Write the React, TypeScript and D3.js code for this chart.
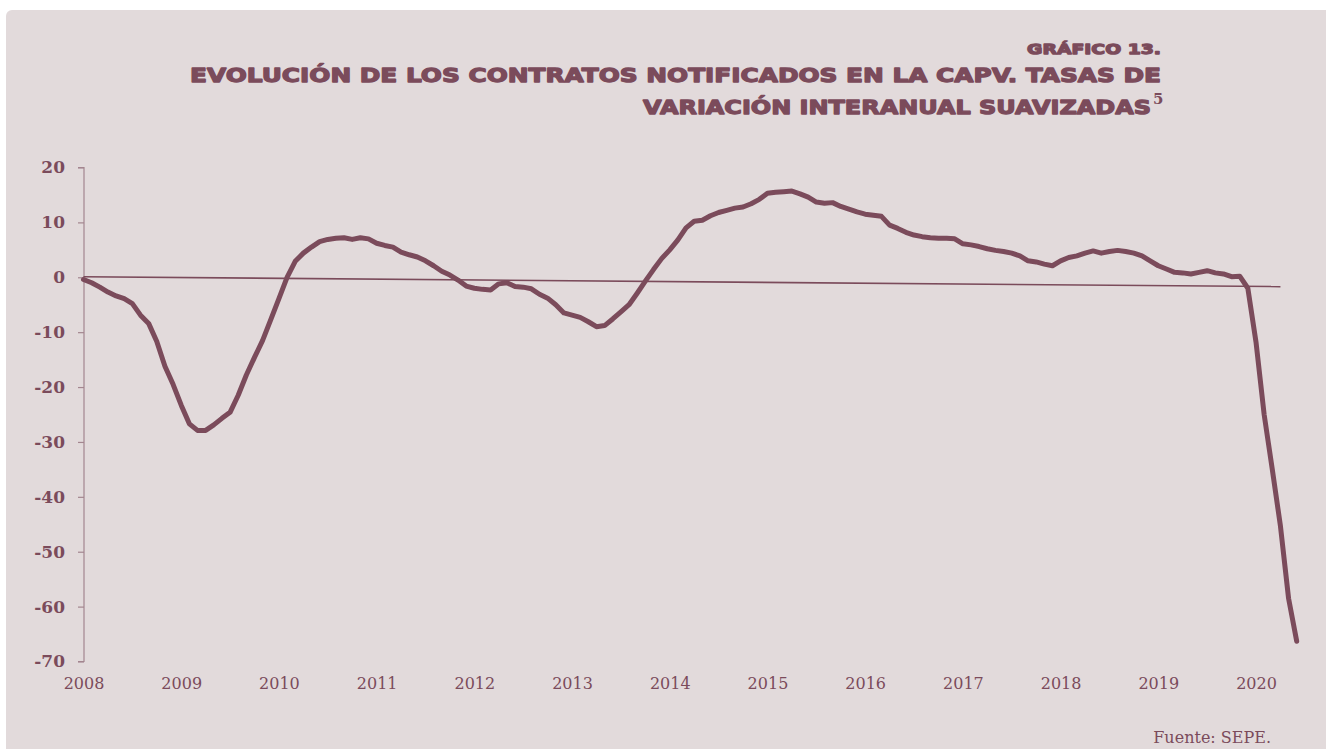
import React, { useEffect, useRef } from "react";
import * as d3 from "d3";

// tasas de variación interanual suavizadas, un valor por mes (ene..dic)
const v2008 = [-0.4, -1.0, -1.8, -2.7, -3.4, -3.9, -4.8, -6.9, -8.4, -11.7, -16.2, -19.5];
const v2009 = [-23.3, -26.7, -27.9, -27.9, -26.9, -25.7, -24.6, -21.5, -17.8, -14.6, -11.5, -7.7];
const v2010 = [-3.9, 0.0, 2.9, 4.4, 5.5, 6.5, 6.9, 7.1, 7.2, 6.9, 7.2, 7.0];
const v2011 = [6.2, 5.8, 5.5, 4.6, 4.1, 3.7, 3.0, 2.1, 1.1, 0.4, -0.5, -1.6];
const v2012 = [-2.0, -2.2, -2.3, -1.2, -1.0, -1.7, -1.8, -2.1, -3.1, -3.8, -5.0, -6.5];
const v2013 = [-6.9, -7.3, -8.1, -9.0, -8.8, -7.6, -6.3, -5.0, -2.9, -0.7, 1.4, 3.4];
const v2014 = [5.0, 6.8, 9.0, 10.2, 10.4, 11.2, 11.8, 12.2, 12.6, 12.8, 13.4, 14.2];
const v2015 = [15.3, 15.5, 15.6, 15.7, 15.2, 14.6, 13.7, 13.5, 13.6, 12.9, 12.4, 11.9];
const v2016 = [11.5, 11.3, 11.1, 9.5, 8.9, 8.2, 7.7, 7.4, 7.2, 7.1, 7.1, 7.0];
const v2017 = [6.1, 5.9, 5.6, 5.2, 4.9, 4.7, 4.4, 3.9, 3.0, 2.8, 2.4, 2.1];
const v2018 = [3.0, 3.6, 3.9, 4.4, 4.8, 4.4, 4.7, 4.9, 4.7, 4.4, 3.9, 3.0];
const v2019 = [2.1, 1.5, 0.9, 0.8, 0.6, 0.9, 1.2, 0.8, 0.6, 0.1, 0.2, -2.0];
const v2020 = [-11.8, -25.0, -35.0, -45.3, -58.5, -66.3];

const yearlyValues = [v2008, v2009, v2010, v2011, v2012, v2013, v2014, v2015, v2016, v2017, v2018, v2019, v2020];
const yearLabels = [2008, 2009, 2010, 2011, 2012, 2013, 2014, 2015, 2016, 2017, 2018, 2019, 2020];
const yTicks = [20, 10, 0, -10, -20, -30, -40, -50, -60, -70];

// línea de tendencia (inicio, fin)
const trendTimes = [2008, 2020.25];
const trendValues = [0.1, -1.7];

const titleLines = [
  "GRÁFICO 13.",
  "EVOLUCIÓN DE LOS CONTRATOS NOTIFICADOS EN LA CAPV. TASAS DE",
  "VARIACIÓN INTERANUAL SUAVIZADAS",
];

const MAIN = "#7b4b5b";
const AXIS = "#a3868f";
const PANEL = "#e2dadb";
const SERIF = "'DejaVu Serif', serif";
const DISPLAY = "'DejaVu Sans', sans-serif";

const W = 1326;
const H = 749;

export default function App() {
  const yAxisRef = useRef<SVGGElement>(null);
  const xAxisRef = useRef<SVGGElement>(null);

  const x = d3.scaleLinear().domain([2008, 2020]).range([83.5, 1256]);
  const y = d3.scaleLinear().domain([-70, 20]).range([661.5, 167.5]);

  const points = yearlyValues.flatMap((arr, k) =>
    arr.map((v, m) => ({ t: yearLabels[k] + m / 12, v }))
  );
  const trend = trendTimes.map((t, i) => ({ t, v: trendValues[i] }));

  const line = d3
    .line<{ t: number; v: number }>()
    .x((d) => x(d.t))
    .y((d) => y(d.v));

  useEffect(() => {
    const gy = d3.select(yAxisRef.current);
    gy.selectAll("*").remove();
    gy.call(
      d3
        .axisLeft(y)
        .tickValues(yTicks)
        .tickSize(6)
        .tickPadding(13)
        .tickFormat((d) => String(d))
    );
    gy.attr("font-family", null).attr("font-size", null);
    gy.select(".domain").attr("stroke", AXIS).attr("stroke-width", 1.2).attr("d", `M-6,${y(20)}H0V${y(-70)}H-6`);
    gy.selectAll(".tick line").attr("stroke", AXIS).attr("stroke-width", 1.2);
    gy.selectAll(".tick text")
      .attr("fill", MAIN)
      .style("font-family", SERIF)
      .style("font-size", "17px")
      .style("font-weight", "bold");

    const gx = d3.select(xAxisRef.current);
    gx.selectAll("*").remove();
    gx.call(
      d3
        .axisBottom(x)
        .tickValues(yearLabels)
        .tickSize(0)
        .tickPadding(16)
        .tickFormat((d) => String(d))
    );
    gx.attr("font-family", null).attr("font-size", null);
    gx.select(".domain").remove();
    gx.selectAll(".tick text")
      .attr("fill", MAIN)
      .style("font-family", SERIF)
      .style("font-size", "16px");
  }, []);

  return (
    <svg
      width={W}
      height={H}
      style={{ position: "absolute", left: 0, top: 0, background: "#ffffff" }}
    >
      <rect x={6} y={10} width={W + 20} height={H + 20} rx={6} fill={PANEL} />

      {/* heavy display title: bold sans thickened with a stroke */}
      <g fill={MAIN} stroke={MAIN} strokeWidth={1.3} strokeLinejoin="round" fontFamily={DISPLAY} fontWeight="bold">
        <text x={1027} y={54} fontSize={14.5} textLength={134} lengthAdjust="spacingAndGlyphs">
          {titleLines[0]}
        </text>
        <text x={190} y={82.3} fontSize={20} textLength={971} lengthAdjust="spacingAndGlyphs">
          {titleLines[1]}
        </text>
        <text x={643} y={114} fontSize={20} textLength={508} lengthAdjust="spacingAndGlyphs">
          {titleLines[2]}
        </text>
      </g>
      <text x={1153} y={103.5} fontSize={15} fill={MAIN} fontFamily={SERIF} fontWeight="bold">
        5
      </text>

      <g ref={yAxisRef} transform="translate(84,0)" />
      <g ref={xAxisRef} transform={`translate(0,${y(-70)})`} />

      <path d={line(trend) || ""} fill="none" stroke={MAIN} strokeWidth={1.6} />
      <path
        d={line(points) || ""}
        fill="none"
        stroke={MAIN}
        strokeWidth={5}
        strokeLinejoin="round"
        strokeLinecap="round"
      />

      <text x={1271} y={742.5} textAnchor="end" fontSize={16} fill={MAIN} fontFamily={SERIF}>
        Fuente: SEPE.
      </text>
    </svg>
  );
}
